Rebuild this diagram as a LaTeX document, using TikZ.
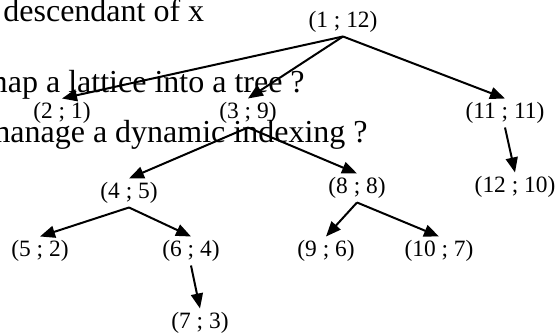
\documentclass[tikz,border=0pt]{standalone}
\usepackage{fontspec}
\setmainfont{Liberation Serif}
\usetikzlibrary{arrows.meta}
\tikzset{
  pair/.style={font=\fontsize{11.7}{14}\selectfont, inner xsep=0pt, inner ysep=1.8pt,
    text height=8pt, text depth=2.5pt},
  slide/.style={font=\fontsize{16}{19}\selectfont, inner sep=0pt},
  link/.style={line width=1pt, -{Triangle[length=7.5pt,width=6pt]}}
}
\begin{document}
\begin{tikzpicture}[x=0.5pt,y=-0.5pt]
  \useasboundingbox (0,0) rectangle (558,336);
  \clip (0,0) rectangle (558,336);
  % slide text behind the tree
  \node[slide,anchor=base west] (t1) at (3,22) {descendant of x};
  \node[slide,anchor=base east] (t2) at (305,93) {map a lattice into a tree ?};
  \node[slide,anchor=base east] (t3) at (368,143) {manage a dynamic indexing ?};
  % tree nodes (pre ; post)
  \node[pair] (n1)  at (343,22)  {(1 ; 12)};
  \node[pair] (n2)  at (62,113)  {(2 ; 1)};
  \node[pair] (n3)  at (248,113) {(3 ; 9)};
  \node[pair] (n11) at (505,113) {(11 ; 11)};
  \node[pair] (n12) at (515,187) {(12 ; 10)};
  \node[pair] (n4)  at (129,193) {(4 ; 5)};
  \node[pair] (n8)  at (357,188) {(8 ; 8)};
  \node[pair] (n5)  at (40,251)  {(5 ; 2)};
  \node[pair] (n6)  at (191,251) {(6 ; 4)};
  \node[pair] (n9)  at (326,251) {(9 ; 6)};
  \node[pair] (n10) at (439,251) {(10 ; 7)};
  \node[pair] (n7)  at (200,323) {(7 ; 3)};
  % edges
  \foreach \a/\b in {n1/n2,n1/n3,n1/n11,n11/n12,n3/n4,n3/n8,n4/n5,n4/n6,n6/n7,n8/n9,n8/n10}{
    \draw[link] (\a.south) -- (\b.north);
  }
\end{tikzpicture}
\end{document}
